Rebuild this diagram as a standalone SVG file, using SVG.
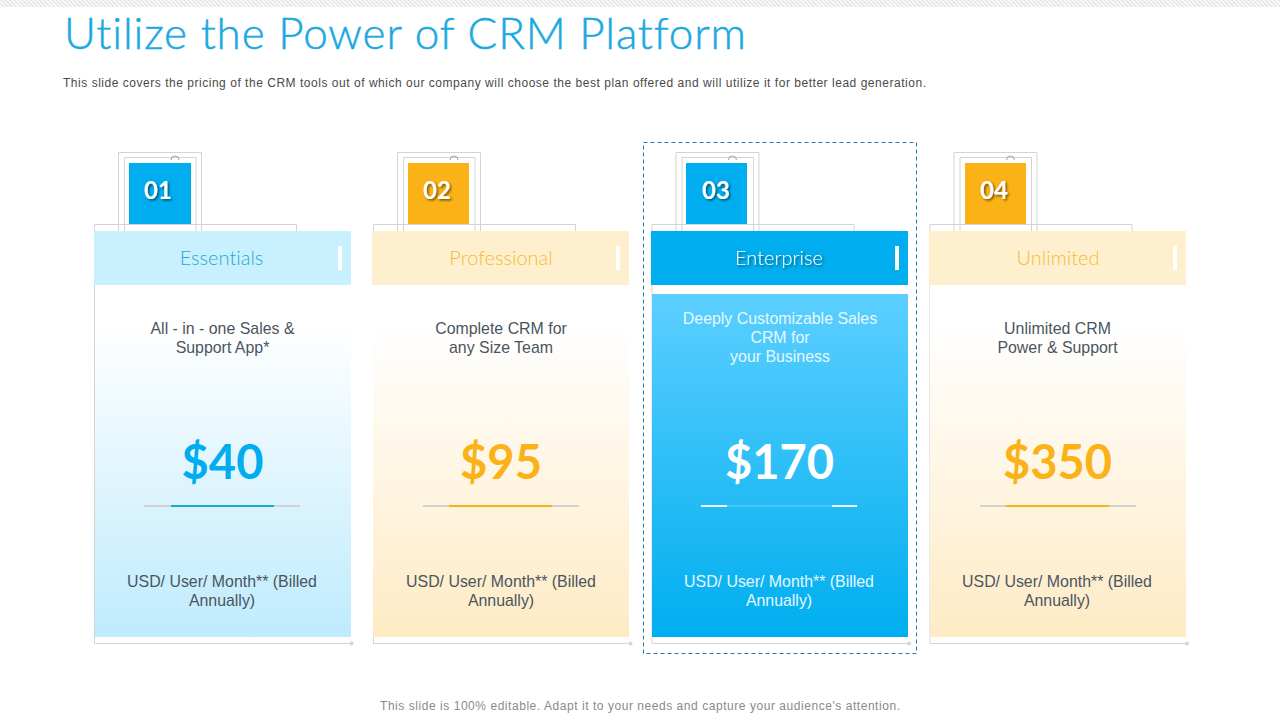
<svg xmlns="http://www.w3.org/2000/svg" width="1280" height="720" viewBox="0 0 1280 720">
<style>
text{font-variant-ligatures:none}
.ln{fill:none;stroke:#d4d4d4;stroke-width:1}
.sans{font-family:"Liberation Sans",Arial,sans-serif;font-size:15.900px;text-anchor:middle;fill:#4a555e}
.w{fill:#e6f8ff}
.hd{font-family:"Lato","Open Sans",sans-serif;font-weight:300;font-size:20px;text-anchor:middle}
.pr{font-family:"Lato","Open Sans",sans-serif;font-weight:700;font-size:47px;text-anchor:middle}
.num{font-family:"Lato","Liberation Sans",sans-serif;font-weight:700;font-size:24px;text-anchor:middle;fill:#fff;filter:url(#sh)}
.r{fill:#d2d2d2}
</style>
<defs>
<pattern id="st" width="3" height="3" patternUnits="userSpaceOnUse" patternTransform="rotate(-45)"><rect width="3" height="3" fill="#fff"/><rect width="1.500" height="3" fill="#e2e2e2"/></pattern>
<linearGradient id="gb" x1="0" y1="0" x2="0" y2="1"><stop offset="0" stop-color="#fff"/><stop offset=".12" stop-color="#fff"/><stop offset="1" stop-color="#bfebfd"/></linearGradient>
<linearGradient id="gy" x1="0" y1="0" x2="0" y2="1"><stop offset="0" stop-color="#fff"/><stop offset=".12" stop-color="#fff"/><stop offset="1" stop-color="#feebc5"/></linearGradient>
<linearGradient id="gc" x1="0" y1="0" x2="0" y2="1"><stop offset="0" stop-color="#5ccfff"/><stop offset="1" stop-color="#00aeef"/></linearGradient>
<filter id="sh" x="-20%" y="-20%" width="150%" height="150%"><feDropShadow dx="1.500" dy="1.500" stdDeviation="1" flood-color="#000" flood-opacity=".55"/></filter>
<g id="frame">
<path class="ln" d="M.5 231V152.500H83.500V231M6.500 231V157.500H78V231"/>
<path class="ln" d="M-23.500 231V224.500H178.500V231M-23.500 285V643.500H232"/>
<circle cx="233.500" cy="643.500" r="2" fill="#d4d4d4"/>
<path d="M53 160a4 4 0 0 1 8 0" fill="none" stroke="#8fa9b5"/>
</g>
</defs>
<rect width="1280" height="7" fill="url(#st)"/>
<text id="title" x="64" y="49" font-family="Lato,'Open Sans',sans-serif" font-weight="300" font-size="44" fill="#1ba9e1" stroke="#1ba9e1" stroke-width=".5" textLength="682" lengthAdjust="spacing">Utilize the Power of CRM Platform</text>
<text id="subtitle" x="63" y="87" font-family="'Liberation Sans',Arial,sans-serif" font-size="12" fill="#4a4a4a" textLength="863" lengthAdjust="spacing">This slide covers the pricing of the CRM tools out of which our company will choose the best plan offered and will utilize it for better lead generation.</text>

<g id="card1">
<use href="#frame" x="118"/>
<rect x="129" y="163" width="62" height="61" fill="#00aeef"/>
<text class="num" x="158" y="199">01</text>
<rect x="94" y="231" width="257" height="54" fill="#c9f0ff"/>
<rect x="338" y="246" width="4" height="24" fill="#fff"/>
<text class="hd" x="221.500" y="265" fill="#1fa9d3">Essentials</text>
<rect x="95" y="285" width="256" height="352" fill="url(#gb)"/>
<text class="sans" x="222.500" y="334">All - in - one Sales &amp;</text>
<text class="sans" x="222.500" y="353">Support App*</text>
<text class="pr" x="222.500" y="479" fill="#00aeef">$40</text>
<rect class="r" x="144" y="505" width="156" height="2"/>
<rect x="171" y="505" width="103" height="2" fill="#1ca9cf"/>
<text class="sans" x="222" y="587">USD/ User/ Month** (Billed</text>
<text class="sans" x="222" y="606">Annually)</text>
</g>

<g id="card2">
<use href="#frame" x="397"/>
<rect x="408" y="163" width="61" height="61" fill="#fbb216"/>
<text class="num" x="437" y="199">02</text>
<rect x="372" y="231" width="257" height="54" fill="#feefcf"/>
<rect x="616" y="246" width="4" height="24" fill="#fff"/>
<text class="hd" x="501" y="265" fill="#f6bb35">Professional</text>
<rect x="373" y="285" width="256" height="352" fill="url(#gy)"/>
<text class="sans" x="501" y="334">Complete CRM for</text>
<text class="sans" x="501" y="353">any Size Team</text>
<text class="pr" x="501" y="479" fill="#fbb216">$95</text>
<rect class="r" x="423" y="505" width="156" height="2"/>
<rect x="449" y="505" width="103" height="2" fill="#f5b21c"/>
<text class="sans" x="501" y="587">USD/ User/ Month** (Billed</text>
<text class="sans" x="501" y="606">Annually)</text>
</g>

<g id="card3">
<rect x="643.500" y="142.500" width="273" height="511" fill="none" stroke="#1f7aa8" stroke-dasharray="4 3"/>
<use href="#frame" x="675.500"/>
<rect x="686" y="163" width="61" height="61" fill="#00aeef"/>
<text class="num" x="716" y="199">03</text>
<rect x="651" y="231" width="257" height="54" fill="#00aeef"/>
<rect x="895" y="246" width="4" height="24" fill="#fff"/>
<text class="hd" x="779" y="265" fill="#fff" filter="url(#sh)">Enterprise</text>
<rect x="652" y="294" width="256" height="343" fill="url(#gc)"/>
<text class="sans w" x="780" y="324">Deeply Customizable Sales</text>
<text class="sans w" x="780" y="343">CRM for</text>
<text class="sans w" x="780" y="362">your Business</text>
<text class="pr" x="779.500" y="479" fill="#fff">$170</text>
<rect x="701" y="505" width="156" height="2" fill="#ecfaff"/>
<rect x="727" y="505" width="105" height="2" fill="#45c6f7"/>
<text class="sans w" x="779" y="587">USD/ User/ Month** (Billed</text>
<text class="sans w" x="779" y="606">Annually)</text>
</g>

<g id="card4">
<use href="#frame" x="953.500"/>
<rect x="965" y="163" width="61" height="61" fill="#fbb216"/>
<text class="num" x="994" y="199">04</text>
<rect x="929" y="231" width="257" height="54" fill="#feefcf"/>
<rect x="1173" y="246" width="4" height="24" fill="#fff"/>
<text class="hd" x="1058" y="265" fill="#f6bb35">Unlimited</text>
<rect x="930" y="285" width="256" height="352" fill="url(#gy)"/>
<text class="sans" x="1057.500" y="334">Unlimited CRM</text>
<text class="sans" x="1057.500" y="353">Power &amp; Support</text>
<text class="pr" x="1057.500" y="479" fill="#fbb216">$350</text>
<rect class="r" x="980" y="505" width="156" height="2"/>
<rect x="1006" y="505" width="103" height="2" fill="#f5b21c"/>
<text class="sans" x="1057" y="587">USD/ User/ Month** (Billed</text>
<text class="sans" x="1057" y="606">Annually)</text>
</g>
<text id="footer" x="380" y="710" font-family="'Liberation Sans',Arial,sans-serif" font-size="12" fill="#8a8a8a" textLength="520" lengthAdjust="spacing">This slide is 100% editable. Adapt it to your needs and capture your audience's attention.</text>
</svg>
